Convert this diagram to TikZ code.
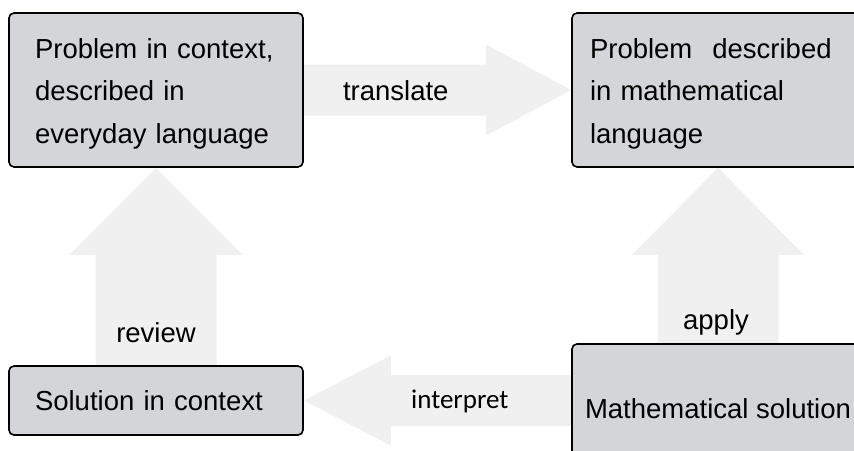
\documentclass[tikz,border=0pt]{standalone}
\usepackage{fontspec}
\setmainfont{Liberation Sans}
\newfontfamily\calibrifont{Carlito}
\usetikzlibrary{calc}
\pgfdeclarelayer{background}
\pgfsetlayers{background,main}
\definecolor{boxgray}{RGB}{212,213,216}
\definecolor{arrowgray}{RGB}{240,240,240}
\tikzstyle{block} = [rectangle, draw, fill=boxgray, line width=1.6pt,
    rounded corners=5pt, align=left, inner sep=0pt,
    font=\fontsize{27.5}{42.5}\selectfont]
\tikzstyle{tag} = [anchor=base, inner sep=0pt, font=\fontsize{27.5}{33}\selectfont]
\newcommand{\bigarrow}[5]{%
  \coordinate (ah) at ($(#2)!#5!(#1)$);
  \fill[arrowgray] ($(#1)!#3!90:(#2)$) -- ($(ah)!#3!90:(#2)$)
    -- ($(ah)!#4!90:(#2)$) -- (#2) -- ($(ah)!#4!-90:(#2)$)
    -- ($(ah)!#3!-90:(#2)$) -- ($(#1)!#3!-90:(#2)$) -- cycle;
}

\begin{document}
\begin{tikzpicture}[x=1pt,y=-1pt]
  \clip (0,0) rectangle (854,450);

  \node[block, minimum width=294pt, minimum height=154pt, text width=242pt] (1) at (156,90)
    {\rule{0pt}{27pt}Problem in context,\\described in\\everyday language};
  \node[block, minimum width=292pt, minimum height=154pt, text width=256pt] (2) at (718,90)
    {\rule{0pt}{27pt}Problem\hspace{20pt}described\\in mathematical\\language};
  \node[block, minimum width=294pt, minimum height=69pt, text width=242pt] (3) at (156,400.5)
    {Solution in context};
  \node[block, minimum width=292pt, minimum height=129pt] (4) at (718,408.5)
    {Mathematical solution};

  \begin{pgfonlayer}{background}
    \coordinate (5) at (4.west |- 3.east);
    \bigarrow{1.east}{2.west}{25.5pt}{45.5pt}{85pt}
    \bigarrow{5}{3.east}{25.5pt}{45pt}{87pt}
    \bigarrow{3.north}{1.south}{60.5pt}{86.5pt}{87pt}
    \bigarrow{4.north}{2.south}{60.5pt}{86pt}{87pt}
  \end{pgfonlayer}

  \node[tag] (6) at ($(1.east)+(92,10)$) {translate};
  \node[tag, font=\calibrifont\fontsize{27}{33}\selectfont] (7) at ($(3.east)+(156,7.5)$) {interpret};
  \node[tag] (8) at ($(3.north)+(0,-23)$) {review};
  \node[tag] (9) at ($(4.north)+(-2,-14)$) {apply};
\end{tikzpicture}
\end{document}
